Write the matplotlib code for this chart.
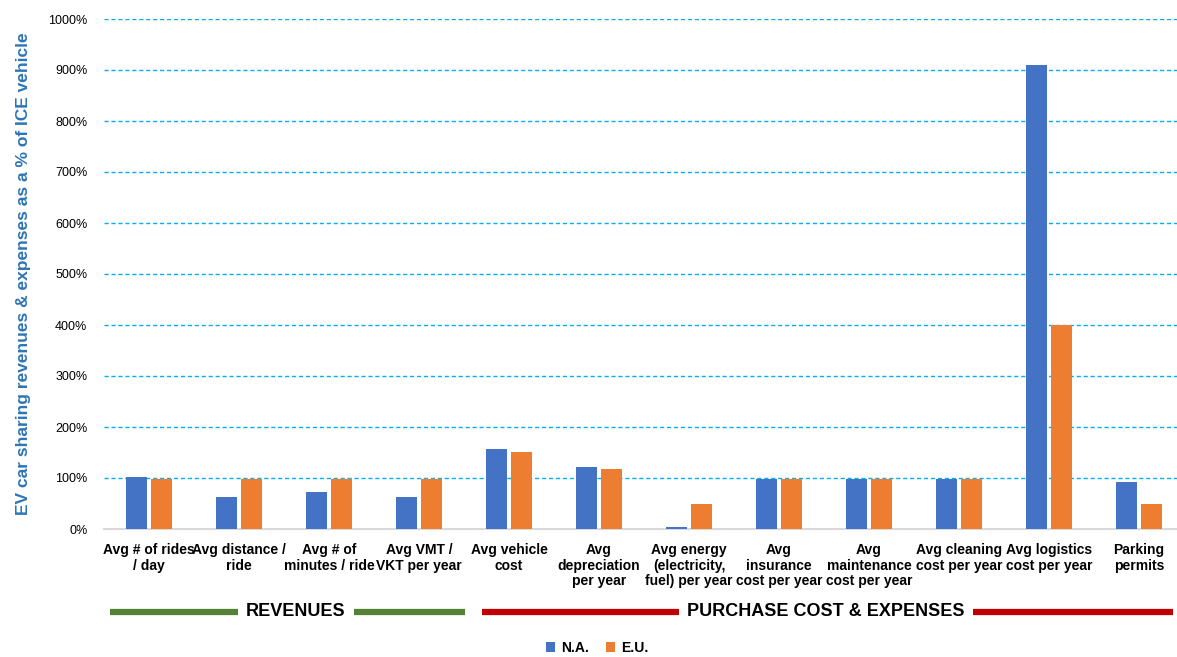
import numpy as np
import matplotlib.pyplot as plt
from matplotlib.ticker import PercentFormatter
import matplotlib.transforms as mtransforms

plt.rcParams['font.family'] = ['Liberation Sans', 'DejaVu Sans']

# categories and values (% of ICE vehicle)
categories = ["Avg # of rides\n/ day", "Avg distance /\nride", "Avg # of\nminutes / ride",
              "Avg VMT /\nVKT per year", "Avg vehicle\ncost", "Avg\ndepreciation\nper year",
              "Avg energy\n(electricity,\nfuel) per year", "Avg\ninsurance\ncost per year",
              "Avg\nmaintenance\ncost per year", "Avg cleaning\ncost per year",
              "Avg logistics\ncost per year", "Parking\npermits"]
na_vals = [102, 63, 72, 63, 157, 122, 4, 98, 98, 98, 910, 92]
eu_vals = [98, 98, 98, 98, 151, 118, 49, 98, 98, 98, 400, 49]
yticks = [0, 100, 200, 300, 400, 500, 600, 700, 800, 900, 1000]

fig = plt.figure(figsize=(11.77, 6.57), dpi=100)
ax = fig.add_axes([104/1177, 128/657, 1080/1177, 510/657])

x = np.arange(len(categories))
w = 0.23
gap = 0.055
ax.bar(x - (w + gap)/2, na_vals, w, color='#4472C4', label='N.A.', zorder=3)
ax.bar(x + (w + gap)/2, eu_vals, w, color='#ED7D31', label='E.U.', zorder=3)

ax.set_xlim(-0.5, len(categories) - 0.5)
ax.set_ylim(0, 1000)
ax.set_yticks(yticks)
ax.yaxis.set_major_formatter(PercentFormatter(decimals=0))
ax.grid(axis='y', color='#00B0F0', linestyle=(0, (3, 2)), linewidth=1, zorder=0)
ax.set_axisbelow(True)
for s in ['top', 'right', 'left']:
    ax.spines[s].set_visible(False)
ax.spines['bottom'].set_color('#D9D9D9')
ax.spines['bottom'].set_linewidth(1.5)
ax.tick_params(axis='both', length=0)
ax.tick_params(axis='y', labelsize=9, pad=12)
ax.set_xticks(x)
ax.set_xticklabels(categories, fontsize=10, fontweight='bold', linespacing=1.15)
ax.tick_params(axis='x', pad=10)

ax.set_ylabel("EV car sharing revenues & expenses as a % of ICE vehicle",
              fontsize=12.5, fontweight='bold', color='#2E75B6', labelpad=12)

# group markers under the category labels
trans = mtransforms.blended_transform_factory(ax.transData, ax.transAxes)
yline = -0.162
ax.plot([-0.43, 3.51], [yline, yline], color='#548235', lw=4.5, transform=trans, clip_on=False,
        solid_capstyle='butt')
ax.plot([3.7, 11.38], [yline, yline], color='#C00000', lw=4.5, transform=trans, clip_on=False,
        solid_capstyle='butt')
ax.text(1.63, yline, "REVENUES", transform=trans, ha='center', va='center', fontsize=13,
        fontweight='bold', bbox=dict(facecolor='white', edgecolor='none', pad=6))
ax.text(7.52, yline, "PURCHASE COST & EXPENSES", transform=trans, ha='center', va='center',
        fontsize=13, fontweight='bold', bbox=dict(facecolor='white', edgecolor='none', pad=6))

leg = fig.legend(loc='center', bbox_to_anchor=(597/1177, 1 - 648/657), ncol=2, frameon=False,
                 prop={'size': 10, 'weight': 'bold'}, handlelength=0.7, handleheight=0.7,
                 columnspacing=1.2, handletextpad=0.4)

fig.savefig('out.png', dpi=100)
